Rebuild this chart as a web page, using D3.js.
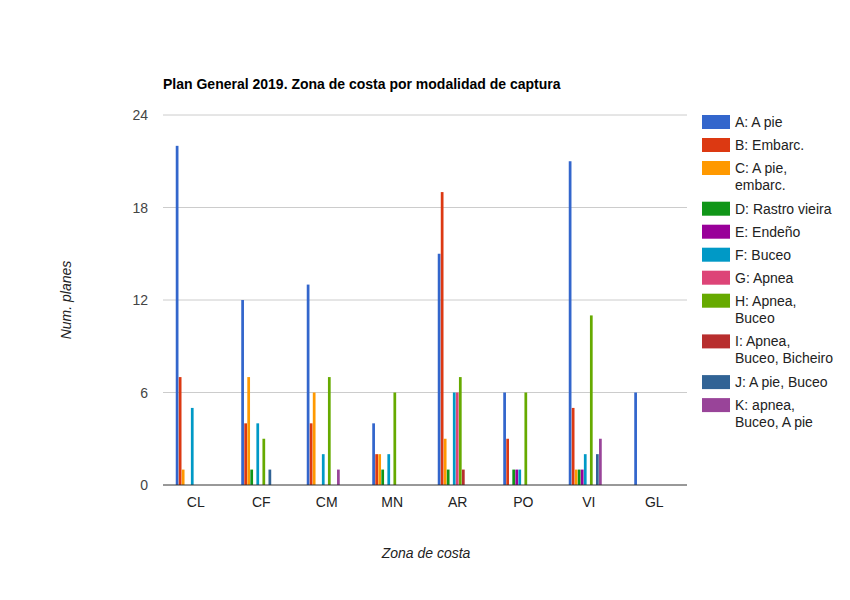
<!DOCTYPE html>
<html>
<head>
<meta charset="utf-8">
<script src="https://cdn.jsdelivr.net/npm/d3@7"></script>
<style>
  body { margin: 0; background: #fff; }
  text { font-family: Arial, "Liberation Sans", sans-serif; }
</style>
</head>
<body>
<svg id="chart" width="850" height="600"></svg>
<script>
const zones = ["CL", "CF", "CM", "MN", "AR", "PO", "VI", "GL"]
const seriesKeys = ["A", "B", "C", "D", "E", "F", "G", "H", "I", "J", "K"]
const seriesLabels = [
    ["A: A pie"],
    ["B: Embarc."],
    ["C: A pie,", "embarc."],
    ["D: Rastro vieira"],
    ["E: Endeño"],
    ["F: Buceo"],
    ["G: Apnea"],
    ["H: Apnea,", "Buceo"],
    ["I: Apnea,", "Buceo, Bicheiro"],
    ["J: A pie, Buceo"],
    ["K: apnea,", "Buceo, A pie"]
]
const colors = ["#3366cc", "#dc3912", "#ff9900", "#109618", "#990099", "#0099c6",
    "#dd4477", "#66aa00", "#b82e2e", "#316395", "#994499"]

// one row per zone, values for A..K
const CL = [22, 7, 1, 0, 0, 5, 0, 0, 0, 0, 0]
const CF = [12, 4, 7, 1, 0, 4, 0, 3, 0, 1, 0]
const CM = [13, 4, 6, 0, 0, 2, 0, 7, 0, 0, 1]
const MN = [4, 2, 2, 1, 0, 2, 0, 6, 0, 0, 0]
const AR = [15, 19, 3, 1, 0, 6, 6, 7, 1, 0, 0]
const PO = [6, 3, 0, 1, 1, 1, 0, 6, 0, 0, 0]
const VI = [21, 5, 1, 1, 1, 2, 0, 11, 0, 2, 3]
const GL = [6, 0, 0, 0, 0, 0, 0, 0, 0, 0, 0]
const yTicks = [0, 6, 12, 18, 24]

const rows = [CL, CF, CM, MN, AR, PO, VI, GL].map((vals, i) => ({
    zone: zones[i],
    values: vals.map((v, j) => ({ key: seriesKeys[j], value: v, color: colors[j] }))
}))

const svg = d3.select("#chart")
const plotLeft = 163, plotRight = 687, plotTop = 115, plotBottom = 485

const x0 = d3.scaleBand().domain(zones).range([plotLeft, plotRight])
const x1 = d3.scaleBand().domain(seriesKeys).range([0, 33]).paddingInner(0.1)
const y = d3.scaleLinear().domain([0, 24]).range([plotBottom, plotTop])

// gridlines
svg.append("g")
    .selectAll("line")
    .data(yTicks.filter(d => d > 0))
    .join("line")
    .attr("x1", plotLeft).attr("x2", plotRight)
    .attr("y1", d => y(d)).attr("y2", d => y(d))
    .attr("stroke", "#cccccc")

// y tick labels
svg.append("g")
    .selectAll("text")
    .data(yTicks)
    .join("text")
    .attr("x", 148)
    .attr("y", d => y(d) + 5)
    .attr("text-anchor", "end")
    .attr("font-size", 14)
    .attr("fill", "#444")
    .text(d => d)

// bars
const groups = svg.append("g")
    .selectAll("g")
    .data(rows)
    .join("g")
    .attr("transform", d => `translate(${x0(d.zone) + x0.bandwidth() / 2 - 20},0)`)

groups.selectAll("rect")
    .data(d => d.values.filter(v => v.value > 0))
    .join("rect")
    .attr("x", d => x1(d.key))
    .attr("width", x1.bandwidth())
    .attr("y", d => y(d.value))
    .attr("height", d => y(0) - y(d.value))
    .attr("fill", d => d.color)

// baseline
svg.append("line")
    .attr("x1", plotLeft).attr("x2", plotRight)
    .attr("y1", y(0)).attr("y2", y(0))
    .attr("stroke", "#333")

// x labels
svg.append("g")
    .selectAll("text")
    .data(zones)
    .join("text")
    .attr("x", d => x0(d) + x0.bandwidth() / 2)
    .attr("y", 507)
    .attr("text-anchor", "middle")
    .attr("font-size", 14)
    .attr("fill", "#222")
    .text(d => d)

// title
svg.append("text")
    .attr("x", plotLeft).attr("y", 89)
    .attr("font-size", 14)
    .attr("font-weight", "bold")
    .attr("fill", "#000")
    .text("Plan General 2019. Zona de costa por modalidad de captura")

// axis titles
svg.append("text")
    .attr("x", (plotLeft + plotRight) / 2 + 1).attr("y", 558)
    .attr("text-anchor", "middle")
    .attr("font-size", 14)
    .attr("font-style", "italic")
    .attr("fill", "#222")
    .text("Zona de costa")

svg.append("text")
    .attr("transform", "translate(71,300) rotate(-90)")
    .attr("text-anchor", "middle")
    .attr("font-size", 14)
    .attr("font-style", "italic")
    .attr("fill", "#222")
    .text("Num. planes")

// legend
const legend = svg.append("g")
let ly = 115
seriesLabels.forEach((lines, i) => {
    legend.append("rect")
        .attr("x", 702).attr("y", ly)
        .attr("width", 28).attr("height", 14)
        .attr("fill", colors[i])
    const t = legend.append("text")
        .attr("x", 735).attr("y", ly + 12)
        .attr("font-size", 14)
        .attr("fill", "#222")
    lines.forEach((line, k) => {
        t.append("tspan")
            .attr("x", 735)
            .attr("dy", k === 0 ? 0 : 17)
            .text(line)
    })
    ly += 23 + (lines.length - 1) * 17.7
})
</script>
</body>
</html>
